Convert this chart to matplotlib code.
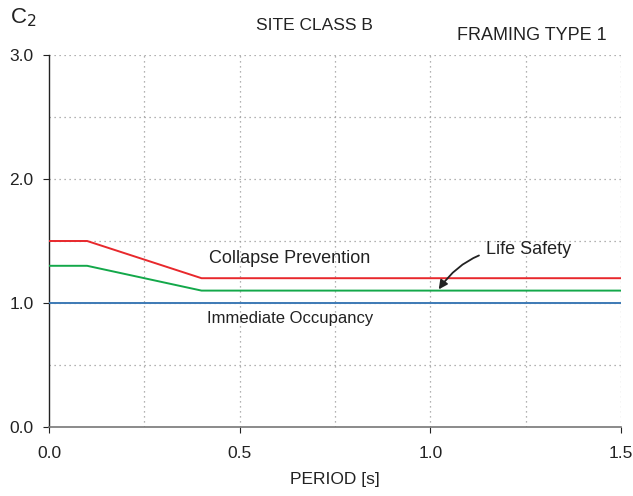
import matplotlib
matplotlib.use("Agg")
import matplotlib.pyplot as plt

plt.rcParams['font.family'] = ['Liberation Sans', 'DejaVu Sans']

period = [0.0, 0.1, 0.4, 1.5]
collapse_prevention = [1.5, 1.5, 1.2, 1.2]
life_safety = [1.3, 1.3, 1.1, 1.1]
immediate_occupancy = [1.0, 1.0, 1.0, 1.0]

xticks = [0.0, 0.5, 1.0, 1.5]
xtick_labels = ["0.0", "0.5", "1.0", "1.5"]
yticks = [0.0, 1.0, 2.0, 3.0]
ytick_labels = ["0.0", "1.0", "2.0", "3.0"]

fig = plt.figure(figsize=(6.33, 4.96), dpi=100)
ax = fig.add_axes([49/633, 1-427/496, 572/633, 372/496])

ax.set_xlim(0, 1.5)
ax.set_ylim(0, 3.0)

# grid
for gx in [0.25, 0.5, 0.75, 1.0, 1.25, 1.5]:
    ax.axvline(gx, color='#999999', lw=0.9, ls=(0, (1, 3)), zorder=1)
for gy in [0.5, 1.0, 1.5, 2.0, 2.5, 3.0]:
    ax.axhline(gy, color='#999999', lw=0.9, ls=(0, (1, 3)), zorder=1)

ax.plot(period, immediate_occupancy, color='#3d7ab5', lw=1.4, zorder=3)
ax.plot(period, life_safety, color='#13a84a', lw=1.4, zorder=3)
ax.plot(period, collapse_prevention, color='#e8282c', lw=1.4, zorder=3)

for s in ['top', 'right']:
    ax.spines[s].set_visible(False)
ax.spines['left'].set_color('#222222')
ax.spines['bottom'].set_color('#777777')
ax.spines['left'].set_linewidth(1.0)
ax.spines['bottom'].set_linewidth(1.2)

ax.set_xticks(xticks)
ax.set_xticklabels(xtick_labels)
ax.set_yticks(yticks)
ax.set_yticklabels(ytick_labels)
ax.tick_params(axis='both', labelsize=12.5, colors='#222222', length=4.5, width=0.8)
ax.tick_params(axis='x', pad=9)
ax.tick_params(axis='y', pad=6.5)

ax.set_xlabel("PERIOD [s]", fontsize=12.5, color='#222222', labelpad=8)

fig.text(10/633, 1-18/496, "C$_2$", fontsize=16, color='#222222', va='center', ha='left')
fig.text(314/633, 1-26/496, "SITE CLASS B", fontsize=12.5, color='#222222', va='center', ha='center')
fig.text(532/633, 1-35/496, "FRAMING TYPE 1", fontsize=13, color='#222222', va='center', ha='center')

ax.text(0.632, 1.355, "Collapse Prevention", fontsize=13, color='#222222', ha='center', va='center')
ax.text(0.632, 0.875, "Immediate Occupancy", fontsize=12, color='#222222', ha='center', va='center')
ax.annotate("Life Safety", xy=(1.022, 1.11), xytext=(1.145, 1.43),
            fontsize=13, color='#222222', ha='left', va='center',
            arrowprops=dict(arrowstyle='-|>', color='#222222', lw=1.3,
                            connectionstyle='arc3,rad=0.3', shrinkA=3, shrinkB=0,
                            mutation_scale=13))

fig.savefig("out.png", dpi=100)
